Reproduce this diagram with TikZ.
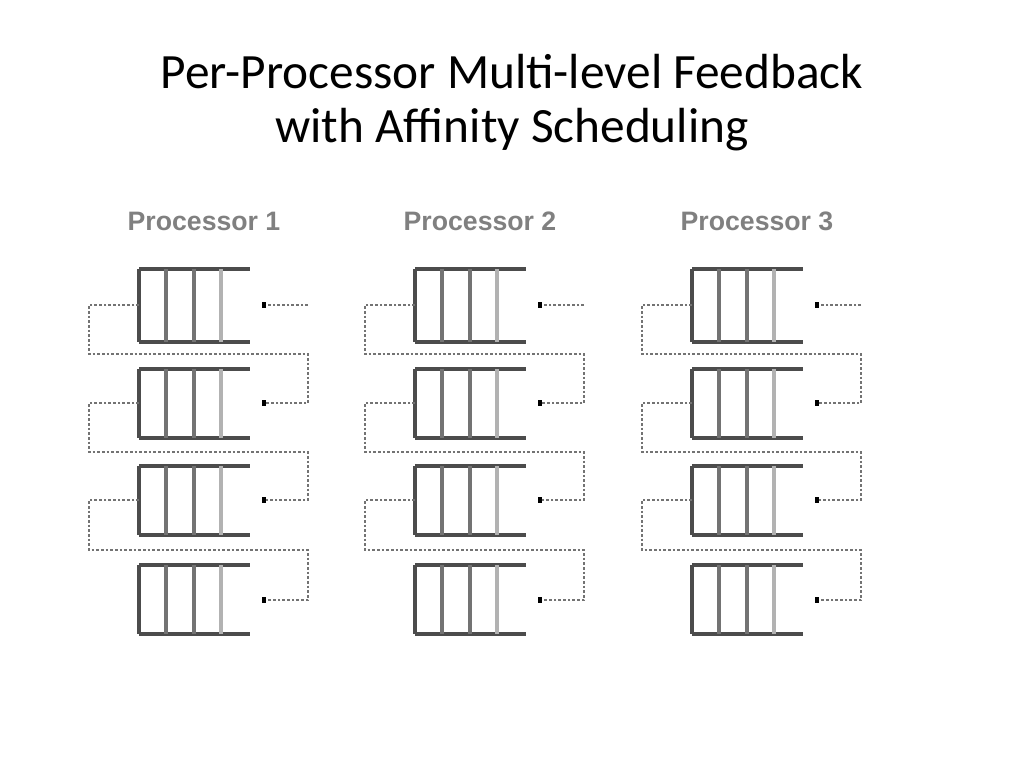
\documentclass[tikz,border=0pt]{standalone}
\usetikzlibrary{arrows.meta}
\usepackage{fontspec}
\setmainfont{Carlito}
\newfontfamily\lab{Liberation Sans}
\begin{document}
\begin{tikzpicture}[x=0.75pt,y=-0.75pt,
  dk/.style={draw=black!70,line width=2.3pt},
  md/.style={draw=black!55,line width=2.3pt},
  lt/.style={draw=black!30,line width=2.3pt},
  dot/.style={draw=black!55,line width=1pt,dash pattern=on 2pt off 1.5pt},
  arr/.style={dot,-{Rectangle[length=3pt,width=4pt,black]}},
  lbl/.style={font=\lab\fontsize{20}{24}\selectfont\bfseries,text=black!50}]
\useasboundingbox (0,0) rectangle (1024,768);
\node (t1) at (512,72) {\fontsize{37}{42}\selectfont Per-Processor Multi-level Feedback};
\node (t2) at (512,130) {\fontsize{37}{42}\selectfont with Affinity Scheduling};
\foreach \p/\ox in {1/0,2/276,3/553}{
  \node[lbl] (p\p) at (204+\ox,221) {Processor \p};
  \foreach \q/\yt/\yb in {1/269/342,2/369/438,3/466/535,4/565/634}{
    \draw[dk] (139+\ox,\yt) -- (250+\ox,\yt);
    \draw[dk] (139+\ox,\yb) -- (250+\ox,\yb);
    \draw[dk] (139+\ox,\yt) -- (139+\ox,\yb);
    \draw[md] (166+\ox,\yt) -- (166+\ox,\yb);
    \draw[md] (194+\ox,\yt) -- (194+\ox,\yb);
    \draw[lt] (221+\ox,\yt) -- (221+\ox,\yb);
  }
  \draw[arr] (308+\ox,305) -- (262+\ox,305);
  \foreach \ya/\yc/\yd in {305/354/403,403/452/500,500/550/600}{
    \draw[arr] (139+\ox,\ya) -- (89+\ox,\ya) -- (89+\ox,\yc) -- (308+\ox,\yc) -- (308+\ox,\yd) -- (262+\ox,\yd);
  }
}
\end{tikzpicture}
\end{document}
